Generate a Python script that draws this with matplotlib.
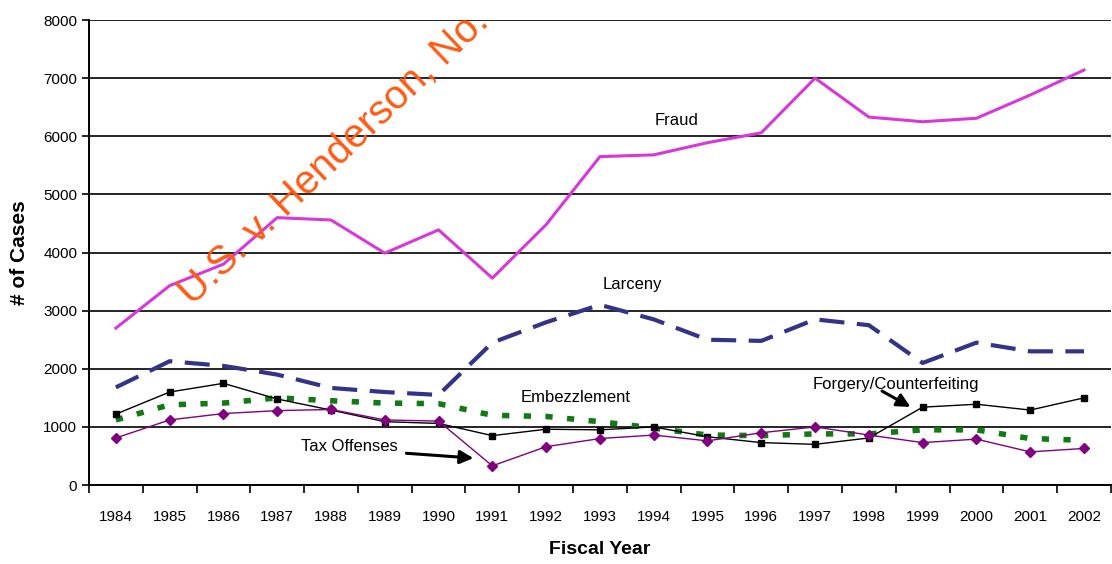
import matplotlib.pyplot as plt

# Data
years = ["1984", "1985", "1986", "1987", "1988", "1989", "1990", "1991", "1992", "1993",
         "1994", "1995", "1996", "1997", "1998", "1999", "2000", "2001", "2002"]
fraud = [2700, 3430, 3800, 4600, 4560, 3990, 4390, 3560, 4480, 5650,
         5680, 5890, 6060, 7000, 6330, 6250, 6310, 6710, 7140]
larceny = [1680, 2130, 2050, 1900, 1670, 1600, 1550, 2450, 2800, 3100,
           2850, 2500, 2480, 2850, 2750, 2100, 2450, 2300, 2300]
embezzlement = [1120, 1380, 1410, 1500, 1450, 1410, 1400, 1200, 1180, 1090,
                980, 860, 850, 880, 880, 950, 950, 800, 770]
forgery = [1220, 1600, 1750, 1480, 1290, 1090, 1060, 850, 960, 950,
           1000, 830, 730, 700, 810, 1340, 1390, 1290, 1500]
tax = [810, 1120, 1230, 1280, 1300, 1120, 1100, 330, 660, 800,
       860, 760, 900, 1000, 860, 730, 790, 570, 630]

plt.rcParams['font.family'] = ['Liberation Sans', 'DejaVu Sans']

fig = plt.figure(figsize=(11.12, 5.64), dpi=100)
ax = fig.add_axes([0.080, 0.140, 0.919, 0.8245])

x = range(len(years))
ax.plot(x, fraud, color="#d838d8", lw=2.2, zorder=3)
ax.plot(x, larceny, color="#333388", lw=3, dashes=(6, 3), zorder=3)
ax.plot(x, embezzlement, color="#117a11", lw=4, dashes=(1.3, 2.6), zorder=3)
ax.plot(x, forgery, color="black", lw=1, marker="s", markersize=4, zorder=4)
ax.plot(x, tax, color="#800080", lw=1, marker="D", markersize=5, zorder=4)

ax.set_xlim(-0.5, len(years) - 0.5)
ax.set_ylim(0, 8000)
ax.set_yticks(range(0, 8001, 1000))
ax.yaxis.grid(True, color="black", lw=1.2)
ax.set_axisbelow(True)
ax.set_xticks(list(x))
ax.set_xticklabels(years, fontsize=11)
ax.set_xticks([i - 0.5 for i in range(len(years) + 1)], minor=True)
ax.tick_params(axis="x", which="major", length=0, pad=18)
ax.tick_params(axis="x", which="minor", length=6, width=1.2)
ax.tick_params(axis="y", length=5, width=1.2, labelsize=11)
for s in ["top", "right"]:
    ax.spines[s].set_visible(False)
for s in ["left", "bottom"]:
    ax.spines[s].set_linewidth(1.4)

ax.set_ylabel("# of Cases", fontsize=15, fontweight="bold", labelpad=10)
ax.set_xlabel("Fiscal Year", fontsize=14, fontweight="bold", labelpad=12)

# Series labels
ax.text(10.43, 6280, "Fraud", fontsize=12, ha="center", va="center")
ax.text(9.6, 3450, "Larceny", fontsize=12, ha="center", va="center")
ax.text(8.55, 1500, "Embezzlement", fontsize=12, ha="center", va="center")
ax.text(4.35, 670, "Tax Offenses", fontsize=12, ha="center", va="center")
ax.annotate("", xy=(6.7, 460), xytext=(5.35, 550),
            arrowprops=dict(arrowstyle="-|>", color="black", lw=2.2, mutation_scale=20))
ax.text(14.5, 1730, "Forgery/Counterfeiting", fontsize=12, ha="center", va="center")
ax.annotate("", xy=(14.82, 1320), xytext=(14.2, 1640),
            arrowprops=dict(arrowstyle="-|>", color="black", lw=2.2, mutation_scale=20))

# Watermark
fig.text(0.300, 0.722, "U.S. v. Henderson, No.", fontsize=29, color="#ff5a14",
         rotation=43.5, ha="center", va="center")

fig.savefig("out.png", dpi=100)
